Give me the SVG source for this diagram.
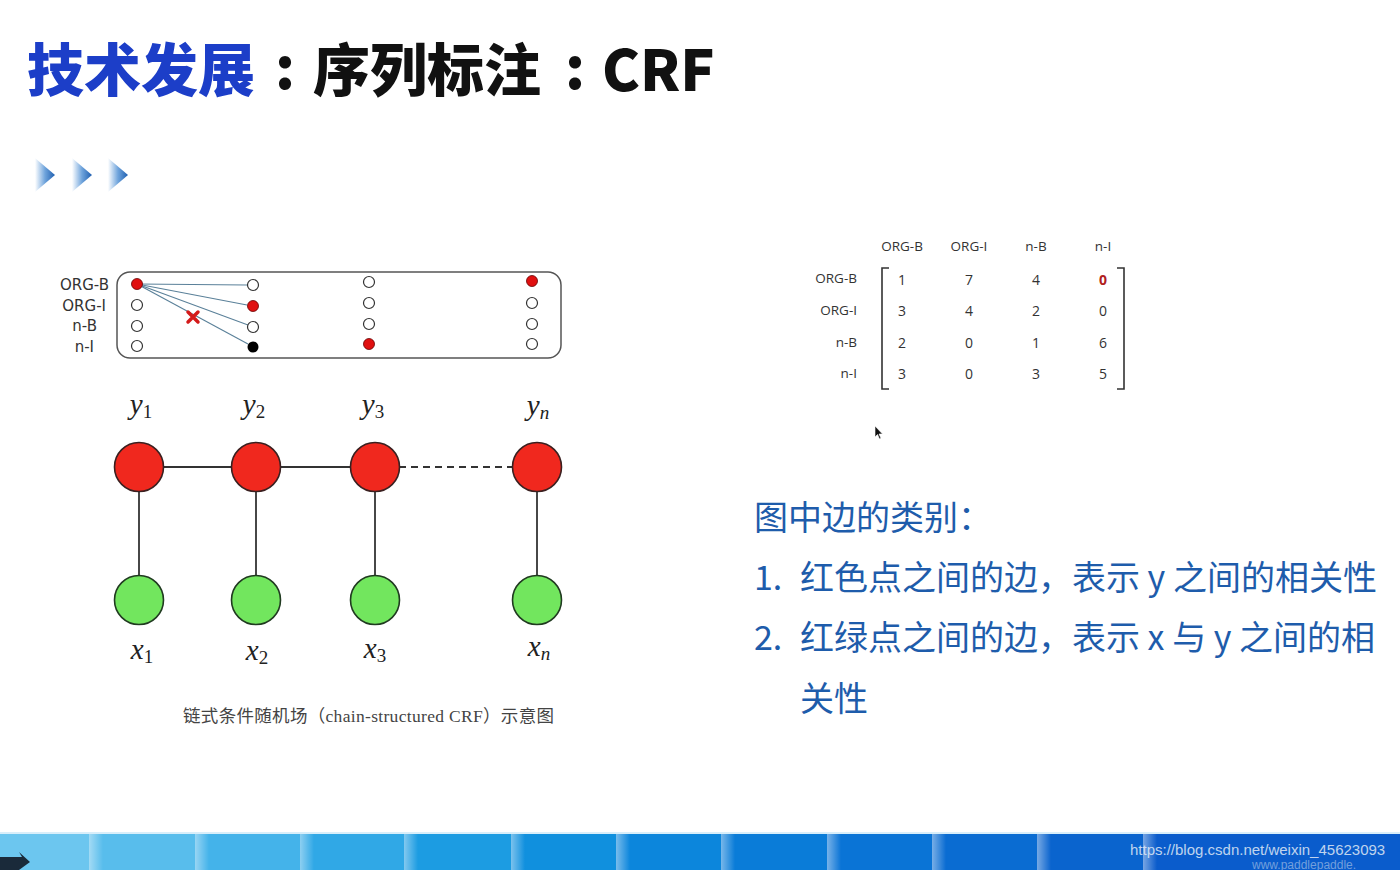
<svg xmlns="http://www.w3.org/2000/svg" width="1400" height="870" viewBox="0 0 1400 870">
<defs>
<linearGradient id="tri" x1="0" y1="0" x2="1" y2="0">
<stop offset="0" stop-color="#ffffff"/>
<stop offset="0.5" stop-color="#6fa4dc"/>
<stop offset="1" stop-color="#1f5fb0"/>
</linearGradient>
<linearGradient id="shine" x1="0" y1="0" x2="1" y2="0">
<stop offset="0" stop-color="#ffffff" stop-opacity="0.45"/>
<stop offset="1" stop-color="#ffffff" stop-opacity="0"/>
</linearGradient>
<style>
.title{font-family:"Noto Sans CJK SC","Noto Sans",sans-serif;font-weight:900;font-size:57px}
.lab{font-family:"DejaVu Sans","Liberation Sans",sans-serif;font-size:15px;fill:#333}
.mlab{font-family:"Open Sans","DejaVu Sans",sans-serif;font-size:13.5px;fill:#333}
.mval{font-family:"Open Sans","DejaVu Sans",sans-serif;font-size:14px;fill:#333;text-anchor:middle}
.ring{fill:#fff;stroke:#333;stroke-width:1.2}
.rdot{fill:#e01010;stroke:#600;stroke-width:0.8}
.edge{stroke:#5a8099;stroke-width:1.1;fill:none}
.ynode{fill:#f0281e;stroke:#3a2020;stroke-width:1.6}
.xnode{fill:#72e65e;stroke:#203a20;stroke-width:1.6}
.conn{stroke:#333;stroke-width:1.8;fill:none}
.math{font-family:"Liberation Serif","DejaVu Serif",serif;font-style:italic;font-size:29px;fill:#222;text-anchor:middle}
.sub{font-style:normal;font-size:19px}
.subi{font-style:italic;font-size:19px}
.cap{font-family:"Liberation Serif","Noto Sans CJK SC",serif;font-size:17.5px;fill:#444}
.note{font-family:"Noto Sans CJK SC","Noto Sans",sans-serif;font-size:34px;fill:#1e5cab}
</style>
</defs>
<rect width="1400" height="870" fill="#ffffff"/>

<!-- title -->
<g id="title">
<text class="title" x="27" y="91" fill="#1c3ec8">技术发展</text>
<text class="title" x="285" y="89" fill="#111" text-anchor="middle">:</text>
<text class="title" x="313" y="91" fill="#111">序列标注</text>
<text class="title" x="575" y="89" fill="#111" text-anchor="middle">:</text>
<text class="title" x="602" y="91" fill="#111">CRF</text>
</g>

<!-- bullets -->
<g id="bullets">
<polygon points="35,158 55,175 35,192" fill="url(#tri)"/>
<polygon points="72,158 92,175 72,192" fill="url(#tri)"/>
<polygon points="108,158 128,175 108,192" fill="url(#tri)"/>
</g>

<!-- lattice -->
<g id="lattice">
<rect x="117" y="272" width="444" height="86" rx="13" fill="none" stroke="#555" stroke-width="1.5"/>
<text class="lab" x="109" y="290" text-anchor="end">ORG-B</text>
<text class="lab" x="106" y="311" text-anchor="end">ORG-I</text>
<text class="lab" x="97" y="331" text-anchor="end">n-B</text>
<text class="lab" x="94" y="352" text-anchor="end">n-I</text>
<g id="lattice-edges">
<line class="edge" x1="137" y1="284" x2="247" y2="285"/>
<line class="edge" x1="137" y1="284" x2="247" y2="305"/>
<line class="edge" x1="137" y1="284" x2="248" y2="325"/>
<line class="edge" x1="137" y1="284" x2="248" y2="344"/>
</g>
<g id="col1">
<circle class="rdot" cx="137" cy="284" r="5.5"/>
<circle class="ring" cx="137" cy="305" r="5.5"/>
<circle class="ring" cx="137" cy="326" r="5.5"/>
<circle class="ring" cx="137" cy="346" r="5.5"/>
</g>
<g id="col2">
<circle class="ring" cx="253" cy="285" r="5.5"/>
<circle class="rdot" cx="253" cy="306" r="5.5"/>
<circle class="ring" cx="253" cy="327" r="5.5"/>
<circle cx="253" cy="347" r="5.5" fill="#000"/>
</g>
<g id="col3">
<circle class="ring" cx="369" cy="282" r="5.5"/>
<circle class="ring" cx="369" cy="303" r="5.5"/>
<circle class="ring" cx="369" cy="324" r="5.5"/>
<circle class="rdot" cx="369" cy="344" r="5.5"/>
</g>
<g id="col4">
<circle class="rdot" cx="532" cy="281" r="5.5"/>
<circle class="ring" cx="532" cy="303" r="5.5"/>
<circle class="ring" cx="532" cy="324" r="5.5"/>
<circle class="ring" cx="532" cy="344" r="5.5"/>
</g>
<path d="M188,312 L198,322 M198,312 L188,322" stroke="#d41a1a" stroke-width="3.5" stroke-linecap="round"/>
</g>

<!-- matrix -->
<g id="matrix">
<text class="mlab" x="902" y="251" text-anchor="middle">ORG-B</text>
<text class="mlab" x="969" y="251" text-anchor="middle">ORG-I</text>
<text class="mlab" x="1036" y="251" text-anchor="middle">n-B</text>
<text class="mlab" x="1103" y="251" text-anchor="middle">n-I</text>
<text class="mlab" x="857" y="283" text-anchor="end">ORG-B</text>
<text class="mlab" x="857" y="315" text-anchor="end">ORG-I</text>
<text class="mlab" x="857" y="347" text-anchor="end">n-B</text>
<text class="mlab" x="857" y="378" text-anchor="end">n-I</text>
<path d="M889,268 H882 V389 H889" fill="none" stroke="#333" stroke-width="1.6"/>
<path d="M1117,268 H1124 V389 H1117" fill="none" stroke="#333" stroke-width="1.6"/>
<text class="mval" x="902" y="285">1</text>
<text class="mval" x="969" y="285">7</text>
<text class="mval" x="1036" y="285">4</text>
<text class="mval" x="1103" y="285" style="fill:#b02020;font-weight:bold">0</text>
<text class="mval" x="902" y="316">3</text>
<text class="mval" x="969" y="316">4</text>
<text class="mval" x="1036" y="316">2</text>
<text class="mval" x="1103" y="316">0</text>
<text class="mval" x="902" y="348">2</text>
<text class="mval" x="969" y="348">0</text>
<text class="mval" x="1036" y="348">1</text>
<text class="mval" x="1103" y="348">6</text>
<text class="mval" x="902" y="379">3</text>
<text class="mval" x="969" y="379">0</text>
<text class="mval" x="1036" y="379">3</text>
<text class="mval" x="1103" y="379">5</text>
</g>

<!-- cursor -->
<path d="M875,426 L875,437 L877.5,434.5 L879.5,439 L881,438.3 L879,434 L882.5,434 Z" fill="#111" stroke="#fff" stroke-width="0.6"/>

<!-- chain CRF connectors -->
<g id="connectors">
<line class="conn" x1="163" y1="467" x2="232" y2="467"/>
<line class="conn" x1="280" y1="467" x2="351" y2="467"/>
<line class="conn" x1="399" y1="467" x2="513" y2="467" stroke-dasharray="7,5"/>
<line class="conn" x1="139" y1="491" x2="139" y2="576"/>
<line class="conn" x1="256" y1="491" x2="256" y2="576"/>
<line class="conn" x1="375" y1="491" x2="375" y2="576"/>
<line class="conn" x1="537" y1="491" x2="537" y2="576"/>
</g>

<g id="y1"><circle class="ynode" cx="139" cy="467" r="24.5"/><text class="math" x="141" y="414">y<tspan class="sub" dy="4">1</tspan></text></g>
<g id="y2"><circle class="ynode" cx="256" cy="467" r="24.5"/><text class="math" x="254" y="414">y<tspan class="sub" dy="4">2</tspan></text></g>
<g id="y3"><circle class="ynode" cx="375" cy="467" r="24.5"/><text class="math" x="373" y="414">y<tspan class="sub" dy="4">3</tspan></text></g>
<g id="yn"><circle class="ynode" cx="537" cy="467" r="24.5"/><text class="math" x="538" y="415">y<tspan class="subi" dy="4">n</tspan></text></g>
<g id="x1"><circle class="xnode" cx="139" cy="600" r="24.5"/><text class="math" x="142" y="659">x<tspan class="sub" dy="4">1</tspan></text></g>
<g id="x2"><circle class="xnode" cx="256" cy="600" r="24.5"/><text class="math" x="257" y="660">x<tspan class="sub" dy="4">2</tspan></text></g>
<g id="x3"><circle class="xnode" cx="375" cy="600" r="24.5"/><text class="math" x="375" y="658">x<tspan class="sub" dy="4">3</tspan></text></g>
<g id="xn"><circle class="xnode" cx="537" cy="600" r="24.5"/><text class="math" x="539" y="656">x<tspan class="subi" dy="4">n</tspan></text></g>

<text class="cap" x="183" y="722" textLength="371" lengthAdjust="spacing">链式条件随机场（chain-structured CRF）示意图</text>

<!-- notes -->
<g id="notes">
<text class="note" x="754" y="530">图中边的类别：</text>
<text class="note" x="754" y="590">1.</text>
<text class="note" x="800" y="590">红色点之间的边，表示 y 之间的相关性</text>
<text class="note" x="754" y="650">2.</text>
<text class="note" x="800" y="650">红绿点之间的边，表示 x 与 y 之间的相</text>
<text class="note" x="800" y="711">关性</text>
</g>

<!-- bottom bar -->
<g id="footer">
<rect x="0" y="834" width="1400" height="36" fill="#0a5ccc"/>
<rect x="-16" y="834" width="106" height="36" fill="#6cc6ef"/>
<rect x="89" y="834" width="106" height="36" fill="#58bdec"/>
<rect x="195" y="834" width="106" height="36" fill="#44b3ea"/>
<rect x="300" y="834" width="105" height="36" fill="#30a8e6"/>
<rect x="404" y="834" width="108" height="36" fill="#1c9ce2"/>
<rect x="511" y="834" width="106" height="36" fill="#1090de"/>
<rect x="616" y="834" width="106" height="36" fill="#0c86dc"/>
<rect x="721" y="834" width="107" height="36" fill="#0a7cd8"/>
<rect x="827" y="834" width="106" height="36" fill="#0a74d6"/>
<rect x="932" y="834" width="106" height="36" fill="#0a6cd2"/>
<rect x="1037" y="834" width="107" height="36" fill="#0a64ce"/>
<rect x="1143" y="834" width="257" height="36" fill="#0a5ccc"/>
<rect x="89" y="834" width="14" height="36" fill="url(#shine)"/>
<rect x="195" y="834" width="14" height="36" fill="url(#shine)"/>
<rect x="300" y="834" width="14" height="36" fill="url(#shine)"/>
<rect x="404" y="834" width="14" height="36" fill="url(#shine)"/>
<rect x="511" y="834" width="14" height="36" fill="url(#shine)"/>
<rect x="616" y="834" width="14" height="36" fill="url(#shine)"/>
<rect x="721" y="834" width="14" height="36" fill="url(#shine)"/>
<rect x="827" y="834" width="14" height="36" fill="url(#shine)"/>
<rect x="932" y="834" width="14" height="36" fill="url(#shine)"/>
<rect x="1037" y="834" width="14" height="36" fill="url(#shine)"/>
<rect x="1143" y="834" width="14" height="36" fill="url(#shine)"/>
<rect x="0" y="832" width="1400" height="2" fill="#d8eefa"/>
<path d="M0,857 H22 L19,852 L30,862 L19,870 H0 Z" fill="#1a2a3a"/>
<text x="1130" y="855" font-family="Liberation Sans, sans-serif" font-size="15" fill="#dfe8f5" opacity="0.85">https://blog.csdn.net/weixin_45623093</text>
<text x="1252" y="869" font-family="Liberation Sans, sans-serif" font-size="12" fill="#b8cce8" opacity="0.6">www.paddlepaddle.</text>
</g>
</svg>
